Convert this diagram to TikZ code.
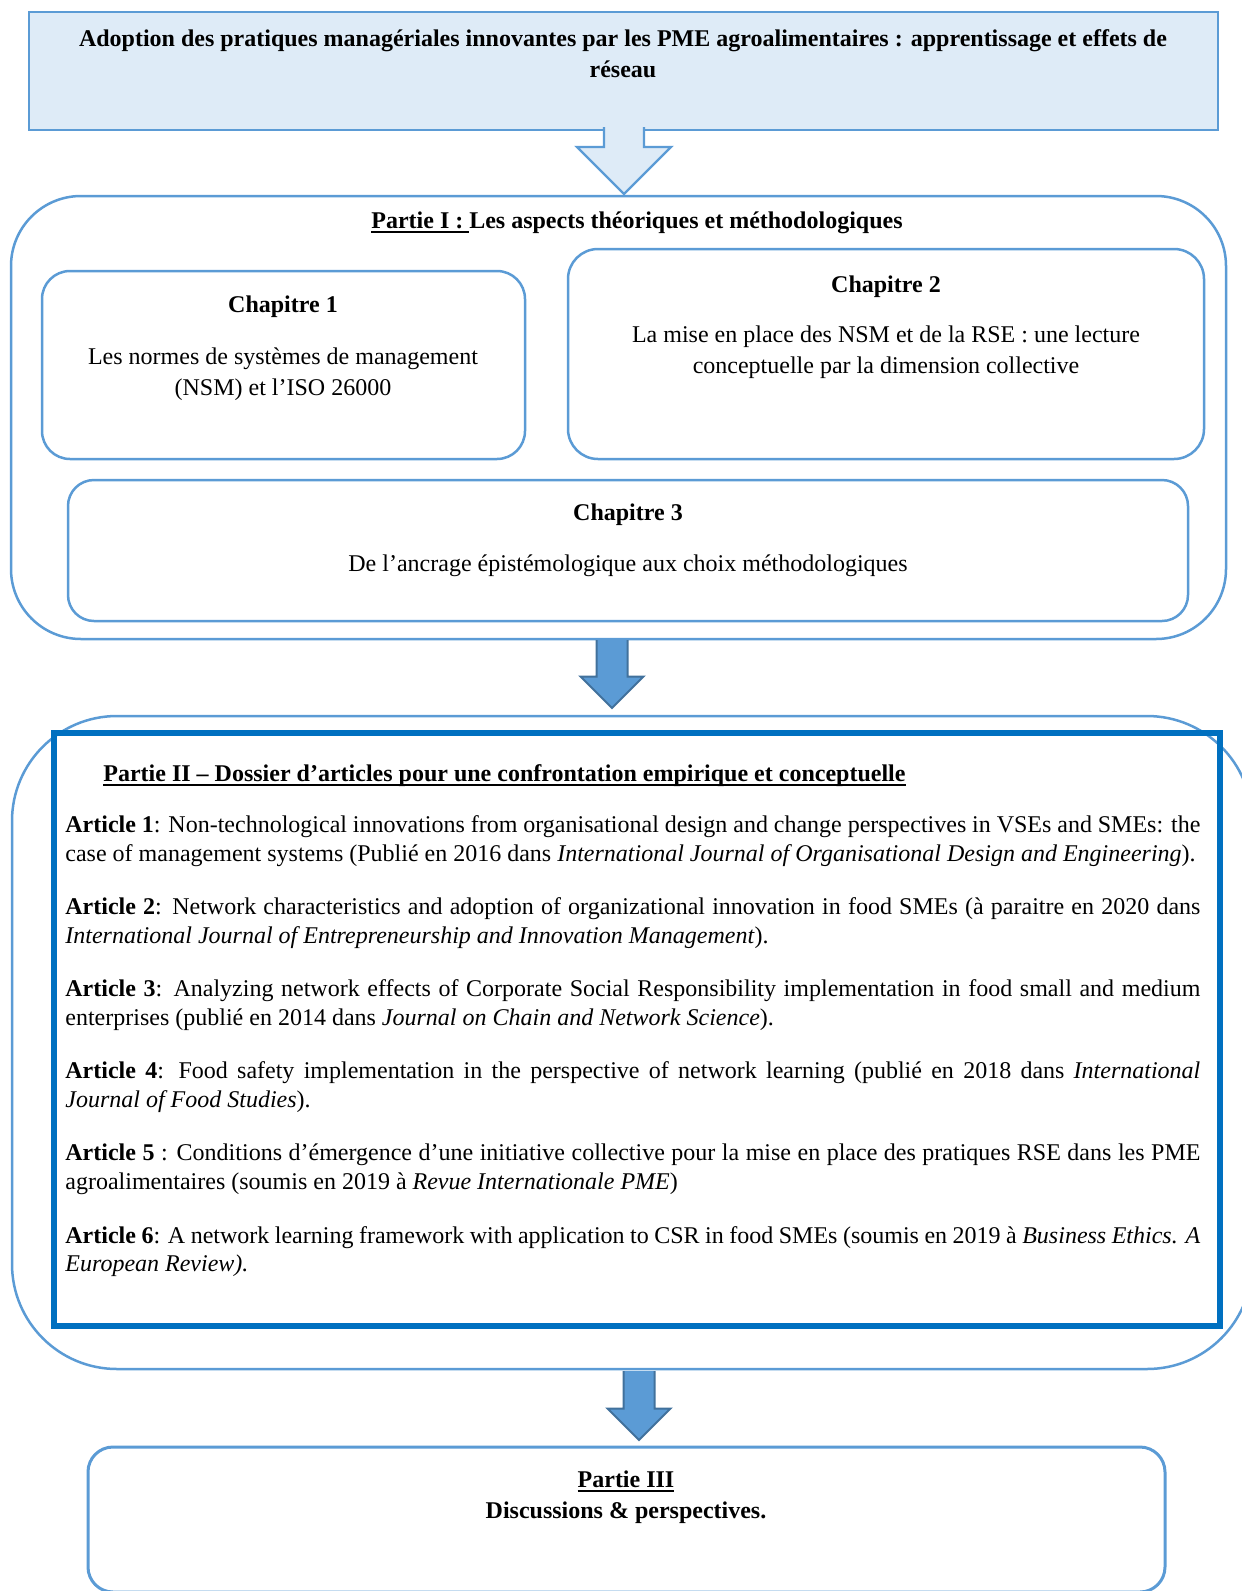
\documentclass[tikz,border=0pt]{standalone}
\usepackage{fontspec}
\setmainfont{Liberation Serif}
\usepackage{xcolor}
\usetikzlibrary{positioning}

\definecolor{wordblue}{HTML}{5B9BD5}
\definecolor{paleblue}{HTML}{DEEBF7}
\definecolor{framblue}{HTML}{0070C0}
\definecolor{arredge}{HTML}{41719C}

% thicker underline, as in the word processor
\newsavebox{\ulbox}
\newcommand{\souligne}[1]{\sbox{\ulbox}{#1}\rlap{\rule[-2.3pt]{\wd\ulbox}{0.9pt}}\usebox{\ulbox}}

% block arrow pointing down: style, x, y top, y tip, half shaft, half head
\newcommand{\blockarr}[6]{%
  \fill[#1, draw=none] (#2-#5,#3) -- (#2+#5,#3) -- (#2+#5,#4-#6) -- (#2+#6,#4-#6)
    -- (#2,#4) -- (#2-#6,#4-#6) -- (#2-#5,#4-#6) -- cycle;
  \draw[#1, fill=none, line join=miter] (#2-#5,#3) -- (#2-#5,#4-#6) -- (#2-#6,#4-#6)
    -- (#2,#4) -- (#2+#6,#4-#6) -- (#2+#5,#4-#6) -- (#2+#5,#3);
}

\tikzset{
  box/.style={draw=wordblue, line width=1.25pt, anchor=north west, inner sep=0pt, outer sep=0pt},
  head/.style={font=\fontsize{12}{15.5}\selectfont\bfseries, anchor=base, inner sep=0pt},
  txt/.style={font=\fontsize{12}{15.5}\selectfont, align=center, anchor=north, inner sep=0pt},
  art/.style={font=\fontsize{12}{14.4}\selectfont, text width=567.5pt, align=justify, inner sep=0pt},
  hollowarr/.style={fill=paleblue, draw=wordblue, line width=1.2pt},
  solidarr/.style={fill=wordblue, draw=arredge, line width=1pt}
}

\begin{document}
\begin{tikzpicture}[x=0.5pt, y=-0.5pt]
\useasboundingbox (0,0) rectangle (1242,1591);
\clip (0,0) rectangle (1242,1591);

% title box
\node[box, line width=1pt, fill=paleblue, minimum width=594.5pt, minimum height=59pt] (top) at (29,12) {};
\node[txt, font=\fontsize{12}{15.5}\selectfont\bfseries] (titre) at (623,24)
  {\strut Adoption des pratiques managériales innovantes par les PME agroalimentaires : apprentissage et effets de\\réseau};

% partie I
\node[box, rounded corners=35pt, minimum width=607.5pt, minimum height=221.5pt] (partI) at (11,196) {};
\node[head] (titreI) at (637,228) {\souligne{Partie I :\ }Les aspects théoriques et méthodologiques};

\node[box, rounded corners=14pt, minimum width=241.5pt, minimum height=94pt] (chap1) at (42,271) {};
\node[head] (c1) at (283,312) {Chapitre 1};
\node[txt] (c1txt) at (283,342) {\strut Les normes de systèmes de management\\(NSM) et l’ISO 26000};

\node[box, rounded corners=15pt, minimum width=318pt, minimum height=105pt] (chap2) at (568,249) {};
\node[head] (c2) at (886,292) {Chapitre 2};
\node[txt] (c2txt) at (886,320) {\strut La mise en place des NSM et de la RSE : une lecture\\conceptuelle par la dimension collective};

\node[box, rounded corners=13pt, minimum width=560pt, minimum height=70.5pt] (chap3) at (68,480) {};
\node[head] (c3) at (628,520) {Chapitre 3};
\node[head, font=\fontsize{12}{15.5}\selectfont] (c3txt) at (628,571) {De l’ancrage épistémologique aux choix méthodologiques};

% partie II
\node[box, rounded corners=52.5pt, minimum width=620pt, minimum height=326.5pt] (partII) at (12,716) {};
\node[box, draw=framblue, line width=2.8pt, minimum width=583pt, minimum height=296.5pt] (dossier) at (54,733) {};
\node[head, anchor=base west] (titreII) at (103,781)
  {\souligne{Partie II – Dossier d’articles pour une confrontation empirique et conceptuelle}};

\node[art, anchor=north west] (art1) at (65,812) {\strut\textbf{Article 1}: Non-technological innovations from organisational design and change perspectives in VSEs and SMEs: the\linebreak case of management systems (Publié en 2016 dans \textit{International Journal of Organisational Design and Engineering}).};
\node[art, below right=13.6pt and 0pt of art1.south west] (art2) {\strut\textbf{Article 2}: Network characteristics and adoption of organizational innovation in food SMEs (à paraitre en 2020 dans\linebreak \textit{International Journal of Entrepreneurship and Innovation Management}).};
\node[art, below right=13.6pt and 0pt of art2.south west] (art3) {\strut\textbf{Article 3}: Analyzing network effects of Corporate Social Responsibility implementation in food small and medium\linebreak enterprises (publié en 2014 dans \textit{Journal on Chain and Network Science}).};
\node[art, below right=13.6pt and 0pt of art3.south west] (art4) {\strut\textbf{Article 4}: Food safety implementation in the perspective of network learning (publié en 2018 dans \textit{International}\linebreak \textit{Journal of Food Studies}).};
\node[art, below right=13.6pt and 0pt of art4.south west] (art5) {\strut\textbf{Article 5} : Conditions d’émergence d’une initiative collective pour la mise en place des pratiques RSE dans les PME\linebreak agroalimentaires (soumis en 2019 à \textit{Revue Internationale PME})};
\node[art, below right=13.6pt and 0pt of art5.south west] (art6) {\strut\textbf{Article 6}: A network learning framework with application to CSR in food SMEs (soumis en 2019 à \textit{Business Ethics. A}\linebreak \textit{European Review).}};

% partie III
\node[box, line width=1.5pt, rounded corners=12.5pt, minimum width=538.5pt, minimum height=72.5pt] (partIII) at (88,1447) {};
\node[head] (titreIII) at (626,1487) {\souligne{Partie III}};
\node[head] (concl) at (626,1518) {Discussions \& perspectives.};

% arrows
\blockarr{hollowarr}{624}{127}{194}{20}{47}
\blockarr{solidarr}{612}{640}{708}{15.5}{31.5}
\blockarr{solidarr}{639}{1371}{1440}{15.5}{31.5}
\end{tikzpicture}
\end{document}
